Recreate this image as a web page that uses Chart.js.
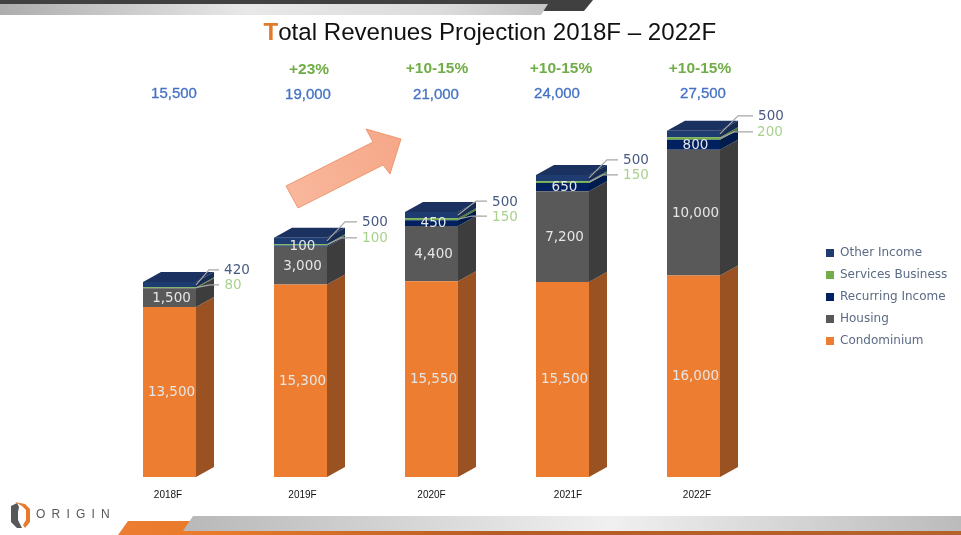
<!DOCTYPE html>
<html><head><meta charset="utf-8">
<style>html,body{margin:0;padding:0;background:#fff;overflow:hidden}canvas{display:block}</style>
<script src="https://cdn.jsdelivr.net/npm/chart.js@4"></script>
</head><body><canvas id="c" width="961" height="535"></canvas>
<script>
const categories = ['2018F','2019F','2020F','2021F','2022F'];
const condominium = [13500,15300,15550,15500,16000];
const housing = [1500,3000,4400,7200,10000];
const recurringIncome = [0,100,450,650,800];
const servicesBusiness = [80,100,150,150,200];
const otherIncome = [420,500,500,500,500];
const totalLabels = ['15,500','19,000','21,000','24,000','27,500'];
const growthLabels = ['','+23%','+10-15%','+10-15%','+10-15%'];
const titleText = 'Total Revenues Projection 2018F – 2022F';

// layout tweaks, pixels
const tickNudge = [-1.5,2,0,5.5,3.5];
const totalX = [174,308,436,557,703], growthX = [0,309,437,561,700];
const outX = [41,48,47,47,51];
const svcShift = [4,0,0,0,1];
const bendX = [13,18,18,18,18];
const otherDY = [-12,-16,-11,-15,-15];
const svcDY = [3,0,4,0,1];
const DX = 18, DY = 10;

const sideColors = ['#9b5222','#3d3d3d','#001c4d','#4e7a32','#172c52'];
const topColor = '#1b3260';

function poly(ctx, pts, fill, stroke, lw){
  ctx.beginPath(); pts.forEach((p,i)=> i?ctx.lineTo(p[0],p[1]):ctx.moveTo(p[0],p[1])); ctx.closePath();
  if(fill){ctx.fillStyle=fill;ctx.fill();}
  if(stroke){ctx.strokeStyle=stroke;ctx.lineWidth=lw||1;ctx.stroke();}
}
function hGrad(ctx,x0,x1,stops){const g=ctx.createLinearGradient(x0,0,x1,0);stops.forEach(s=>g.addColorStop(s[0],s[1]));return g;}

const decor = {
  id:'decor',
  beforeDraw(chart){
    const ctx=chart.ctx; ctx.save();
    ctx.fillStyle='#fff';ctx.fillRect(0,0,961,535);
    // header
    poly(ctx,[[0,0],[593,0],[584,11],[543,11],[546,4],[0,4]],'#404040');
    poly(ctx,[[0,4],[548,4],[541,15],[0,15]],hGrad(ctx,0,548,[[0,'#adadad'],[0.45,'#e8e8e8'],[0.8,'#dcdcdc'],[1,'#c4c4c4']]));
    // footer
    poly(ctx,[[128,521],[200,521],[190,531],[961,531],[961,535],[118,535]],hGrad(ctx,118,961,[[0,'#ed7d31'],[0.12,'#e87a2a'],[0.45,'#b65c24'],[1,'#b5622a']]));
    poly(ctx,[[193,516],[961,516],[961,531],[183,531]],hGrad(ctx,183,961,[[0,'#b8b8b8'],[0.55,'#f0f0f0'],[1,'#bbbbbb']]));
    // logo
    poly(ctx,[[11,506],[17,503],[19,507],[18,512],[18,520],[22,528],[17,528],[11,522]],'#58585a');
    poly(ctx,[[15,502],[25,504],[30,509],[30,522],[25,528],[23,525],[26,520],[26,510],[22,506]],'#e87a2a');
    ctx.font='12px "Liberation Sans"';ctx.fillStyle='#58585a';ctx.textBaseline='middle';ctx.textAlign='left';
    ctx.letterSpacing='6.2px';ctx.fillText('ORIGIN',36,515);ctx.letterSpacing='0px';
    // title
    ctx.font='24.1px "Liberation Sans"';ctx.textBaseline='middle';
    const w0=ctx.measureText('T').width, w=ctx.measureText(titleText).width;
    const x0=488.5-w/2;
    ctx.font='bold 24.1px "Liberation Sans"';
    ctx.fillStyle='#e07b2a';ctx.fillText('T',x0,33);
    ctx.font='24.1px "Liberation Sans"';
    ctx.fillStyle='#111';ctx.fillText(titleText.slice(1),x0+w0,33);
    // arrow
    const g=ctx.createLinearGradient(286,186,401,139);g.addColorStop(0,'#f9b79c');g.addColorStop(1,'#f6a888');
    poly(ctx,[[286,186],[298,208],[383,165],[390,174],[401,139],[366,129],[373,142]],g,'#e88a5c',0.8);
    // totals and growth
    ctx.textAlign='center';
    ctx.font='15px "Liberation Sans"';ctx.fillStyle='#4472c4';ctx.strokeStyle='#4472c4';ctx.lineWidth=0.3;
    totalLabels.forEach((t,i)=>{const y=i===0||i===3||i===4?94:95;ctx.fillText(t,totalX[i],y);ctx.strokeText(t,totalX[i],y);});
    ctx.font='bold 15.5px "Liberation Sans"';ctx.fillStyle='#70ad47';
    growthLabels.forEach((t,i)=>{if(t)ctx.fillText(t,growthX[i],i===1?70:69);});
    ctx.restore();
    // axis label nudges
    const items=chart.scales.x.getLabelItems();
    if(!items._n){items._n=true;items.forEach((it,i)=>{it.options.translation[0]+=tickNudge[i];});}
  },
  beforeDatasetsDraw(chart){
    const ctx=chart.ctx; ctx.save();
    const metas=chart.data.datasets.map((d,i)=>chart.getDatasetMeta(i));
    categories.forEach((_,i)=>{
      metas.forEach((m,k)=>{
        const b=m.data[i]; const r=b.x+b.width/2;
        if(Math.abs(b.base-b.y)<0.01) return;
        poly(ctx,[[r,b.y],[r+DX,b.y-DY],[r+DX,b.base-DY],[r,b.base]],sideColors[k]);
      });
      const t=metas[metas.length-1].data[i]; const l=t.x-t.width/2, r=t.x+t.width/2;
      poly(ctx,[[l,t.y],[l+DX,t.y-DY],[r+DX,t.y-DY],[r,t.y]],topColor);
    });
    ctx.restore();
  },
  afterDatasetsDraw(chart){
    const ctx=chart.ctx; ctx.save();
    ctx.textAlign='center';ctx.textBaseline='middle';ctx.font='13.5px "DejaVu Sans"';
    const fmt=v=>v.toLocaleString('en-US');
    [0,1,2].forEach(k=>{
      const m=chart.getDatasetMeta(k), d=chart.data.datasets[k].data;
      m.data.forEach((b,i)=>{
        if(!d[i])return;
        ctx.fillStyle='#e6e6e6';
        ctx.fillText(fmt(d[i]),b.x+2,(b.y+b.base)/2+0.5);
      });
    });
    const mo=chart.getDatasetMeta(4), ms=chart.getDatasetMeta(3);
    categories.forEach((_,i)=>{
      const t=mo.data[i], s=ms.data[i], r=t.x+t.width/2, top=t.y;
      const lx=r+outX[i], y1=top+otherDY[i], y2=top+svcDY[i];
      ctx.strokeStyle='#a6a6a6';ctx.lineWidth=1.2;
      ctx.beginPath();ctx.moveTo(r,top+3);ctx.lineTo(r+bendX[i],y1);ctx.lineTo(lx-18,y1);ctx.stroke();
      ctx.beginPath();ctx.moveTo(r,(s.y+s.base)/2);ctx.lineTo(r+14,y2);ctx.lineTo(lx-18,y2);ctx.stroke();
      ctx.fillStyle='#485a82';ctx.fillText(fmt(otherIncome[i]),lx,y1+1);
      ctx.fillStyle='#a9d18e';ctx.fillText(fmt(servicesBusiness[i]),lx-svcShift[i],y2+1);
    });
    ctx.restore();
  },
  afterLayout(chart){
    const lg=chart.legend; const w=lg.width;
    lg.left=816; lg.right=816+w; lg.top=117; lg.bottom=477;
  }
};

const mk=(label,data,color)=>({label,data,backgroundColor:color,borderWidth:0,stack:'s',barPercentage:53/131,categoryPercentage:1});
new Chart(document.getElementById('c'),{
  type:'bar',
  data:{labels:categories,datasets:[
    mk('Condominium',condominium,'#ed7d31'),
    mk('Housing',housing,'#595959'),
    mk('Recurring Income',recurringIncome,'#002060'),
    mk('Services Business',servicesBusiness,'#70ad47'),
    mk('Other Income',otherIncome,'#1f3c70')
  ]},
  options:{
    responsive:false,animation:false,
    layout:{padding:{left:104,right:202,top:117,bottom:28}},
    scales:{
      x:{stacked:true,grid:{display:false},border:{display:false},
        ticks:{color:'#111',font:{family:'Liberation Sans',size:10},padding:4,maxRotation:0},
        afterFit(s){s.height=30;}},
      y:{stacked:true,display:false,min:0,max:28600}
    },
    plugins:{
      title:{display:false},tooltip:{enabled:false},
      legend:{position:'chartArea',reverse:true,
        labels:{boxWidth:8,boxHeight:8,padding:10,color:'#5b6b85',font:{family:'DejaVu Sans',size:12}}}
    }
  },
  plugins:[decor]
});
</script></body></html>
